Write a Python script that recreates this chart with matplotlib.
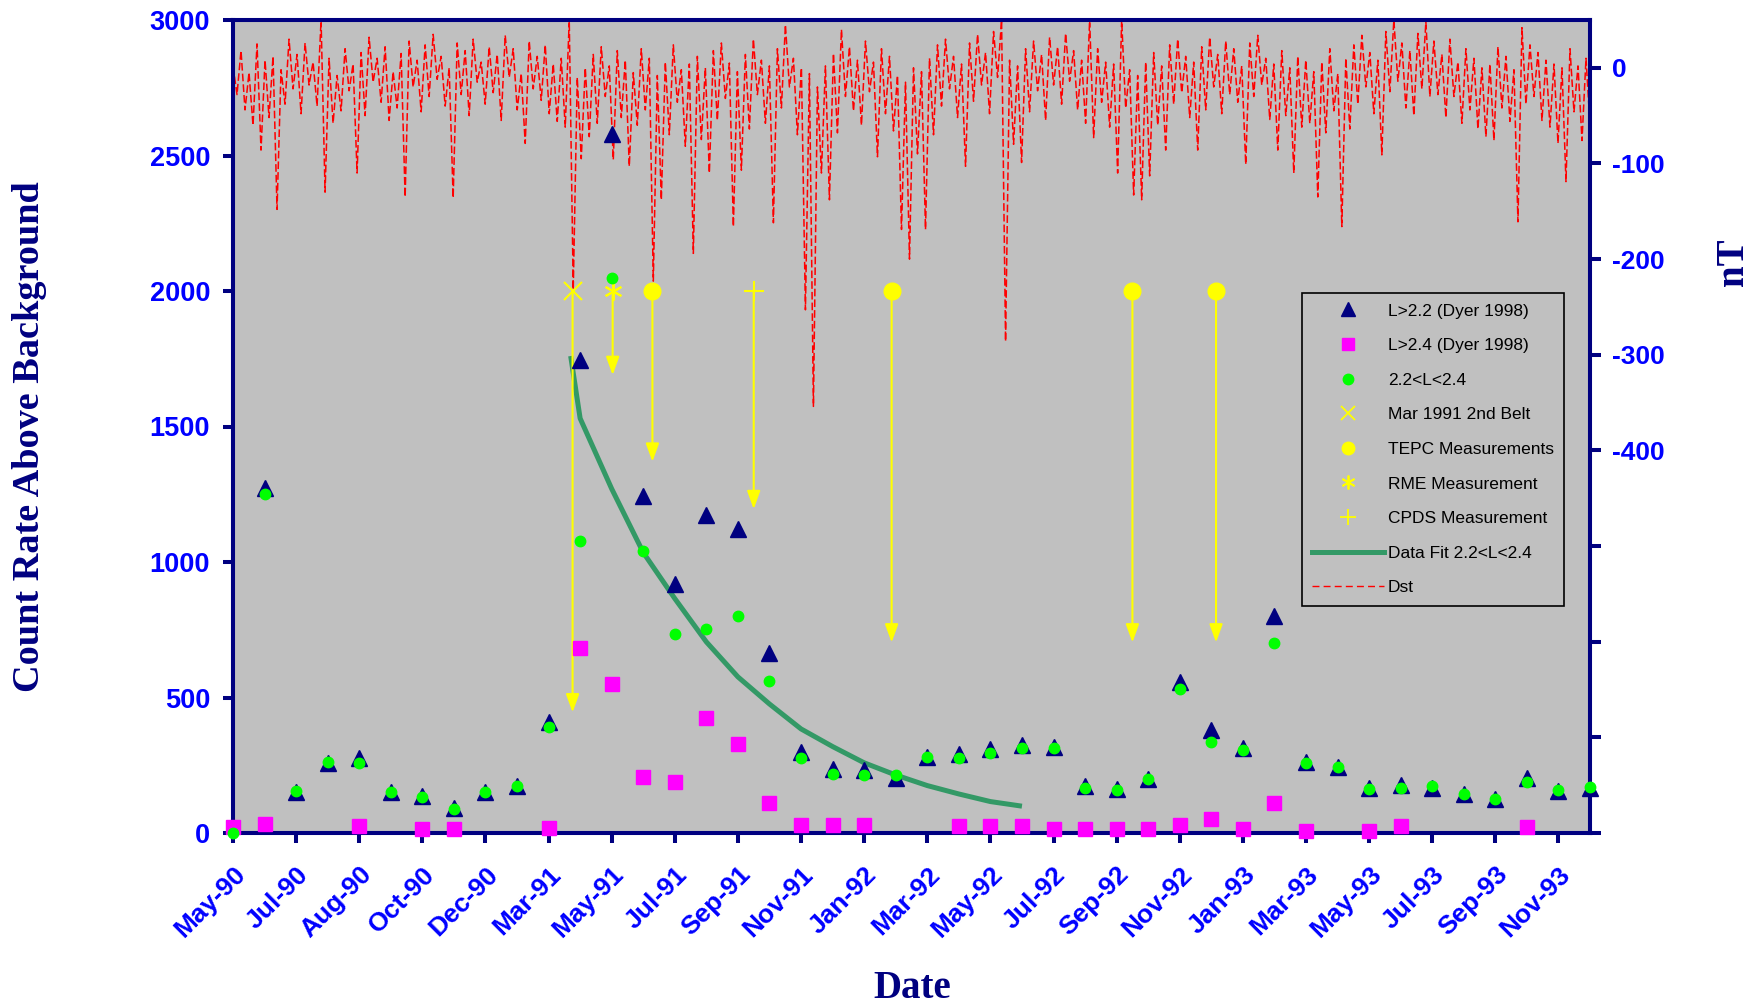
import numpy as np
import matplotlib
matplotlib.use('Agg')
import matplotlib.pyplot as plt
from matplotlib.lines import Line2D
from matplotlib.ticker import FixedLocator, FixedFormatter

nan = np.nan

# ---------------- data ----------------
tick_labels = ['May-90', 'Jul-90', 'Aug-90', 'Oct-90', 'Dec-90', 'Mar-91', 'May-91',
               'Jul-91', 'Sep-91', 'Nov-91', 'Jan-92', 'Mar-92', 'May-92', 'Jul-92',
               'Sep-92', 'Nov-92', 'Jan-93', 'Mar-93', 'May-93', 'Jul-93', 'Sep-93',
               'Nov-93']
n_cat = 44

l22_dyer = [nan, 1273, 151, 258, 277, 150, 137, 93, 150, 172, 408, 1745, 2580, 1242,
            920, 1175, 1120, 664, 299, 238, 233, 203, 280, 292, 310, 325, 318, 175,
            162, 200, 557, 380, 313, 801, 261, 245, 167, 177, 167, 145, 126, 202,
            155, 165]
l24_dyer = [22, 33, nan, nan, 26, nan, 15, 15, nan, nan, 20, 681, 550, 206, 190, 425,
            330, 110, 30, 30, 31, nan, nan, 25, 24, 24, 15, 15, 15, 15, 30, 50, 15,
            110, 7, nan, 7, 26, nan, nan, nan, 22, nan, nan]
l22_l24 = [0, 1251, 155, 262, 260, 151, 133, 90, 151, 173, 390, 1077, 2047, 1039, 733,
           751, 800, 562, 278, 219, 213, 213, 280, 278, 294, 312, 313, 167, 159, 198,
           533, 336, 306, 702, 258, 245, 162, 166, 172, 145, 127, 190, 158, 170]

fit_x = [10.7, 11, 12, 13, 14, 15, 16, 17, 18, 19, 20, 21, 22, 23, 24, 25]
fit_y = [1760, 1530, 1270, 1035, 865, 705, 576, 476, 384, 319, 259, 214, 175, 144,
         116, 99]

belt_x = [10.76]
belt_y = [2000]
belt_tip = [445]
rme_x = [12.03]
rme_y = [2000]
rme_tip = [1690]
tepc_x = [13.29, 20.87, 28.5, 31.15]
tepc_y = [2000, 2000, 2000, 2000]
tepc_tip = [1370, 703, 703, 703]
cpds_x = [16.5]
cpds_y = [2000]
cpds_tip = [1195]

# Dst (nT), read across the top band of the chart
dst = [2, -28, 18, -44, -5, -60, 25, -86, 8, -52, 12, -148, -2, -38, 30, -22, 14, -48, 26, -18,
       6, -40, 50, -130, 10, -58, -8, -45, 20, -24, 4, -110, 16, -50, 32, -15, 10, -36, 22, -55,
       -4, -42, 15, -135, 28, -20, 8, -46, 24, -30, 35, -12, 12, -40, 0, -136, 26, -28, 18, -50,
       30, -15, 6, -38, 22, -26, 14, -55, 34, -10, 20, -44, -6, -79, 28, -22, 12, -34, 24, -48,
       4, -56, 10, -62, 50, -232, -10, -95, 0, -72, 14, -58, 22, -30, 2, -96, 18, -52, 8, -103,
       -5, -60, 20, -44, 10, -223, -8, -138, 6, -70, 24, -36, -2, -82, 4, -194, 12, -75, 0, -110,
       18, -55, 26, -32, 5, -166, -4, -107, 14, -64, 30, -28, 8, -58, 2, -162, 20, -42, 45, -20,
       10, -70, 0, -253, -6, -354, -20, -110, 2, -138, 15, -68, 40, -30, 22, -45, 8, -60, 28, -25,
       6, -93, 20, -48, 12, -66, -8, -169, -15, -200, 0, -90, -4, -169, 10, -70, 24, -40, 30, -22,
       12, -52, 4, -103, 26, -35, 35, -18, 16, -48, 38, -10, 50, -286, 8, -80, 2, -99, 20, -46,
       28, -24, 14, -55, 32, -18, 22, -38, 36, -14, 18, -44, 8, -58, 50, -73, 20, -36, 6, -62,
       4, -110, 50, -42, -2, -133, -8, -138, 6, -113, 16, -60, 2, -86, 24, -38, 30, -26, 12, -52,
       6, -86, 22, -44, 32, -20, 14, -48, 28, -28, 20, -36, 2, -101, 26, -30, 34, -18, 10, -54,
       4, -86, 18, -50, 0, -110, 12, -62, 8, -58, -4, -135, 6, -68, 20, -45, -6, -166, 10, -64,
       24, -38, 34, -20, 16, -48, 8, -91, 38, -25, 50, -14, 26, -42, 18, -50, 36, -22, 48, -30,
       28, -28, 14, -52, 30, -30, 6, -58, 20, -44, 10, -64, 0, -72, 4, -76, 22, -42, 12, -56,
       -2, -161, 42, -38, 24, -30, 16, -55, 8, -62, 4, -79, 0, -119, 20, -46, 2, -76, 10, -60]

left_ticks = [0, 500, 1000, 1500, 2000, 2500, 3000]
dst_ticks = [0, -100, -200, -300, -400, -500, -600, -700, -800]
dst_tick_labels = ['0', '-100', '-200', '-300', '-400', '', '', '', '']

# ---------------- style ----------------
NAVY = '#000080'
BLUE = '#0000FF'
YEL = '#FFFF00'
GRAY = '#C0C0C0'
SANS = 'Liberation Sans'
SERIF = 'Liberation Serif'

W, H = 1752, 1007
fig = plt.figure(figsize=(W / 100, H / 100), dpi=100)
ax = fig.add_axes([233 / W, 1 - 833 / H, (1590 - 233) / W, (833 - 20) / H])
ax2 = ax.twinx()
ax2.set_zorder(1)
ax2.patch.set_visible(True)
ax2.patch.set_facecolor(GRAY)
ax.set_zorder(2)
ax.patch.set_visible(False)

x = np.arange(n_cat)

# Dst on the secondary axis
ax2.plot(np.linspace(0, n_cat - 1, len(dst)), dst, color='#FF0000', lw=1.1,
         ls=(0, (5, 2)))
ax2.set_ylim(-800, 50)

# fit line
ax.plot(fit_x, fit_y, color='#339966', lw=3.6, solid_capstyle='butt', zorder=2)

# measurement arrows
for xs, ys, tips in [(belt_x, belt_y, belt_tip), (rme_x, rme_y, rme_tip),
                     (tepc_x, tepc_y, tepc_tip), (cpds_x, cpds_y, cpds_tip)]:
    for xx, yy, tt in zip(xs, ys, tips):
        ax.annotate('', xy=(xx, tt), xytext=(xx, yy),
                    arrowprops=dict(arrowstyle='-|>,head_length=0.55,head_width=0.2',
                                    color=YEL, lw=1.5, shrinkA=0, shrinkB=0,
                                    mutation_scale=20), zorder=3)

ax.plot(belt_x, belt_y, ls='none', marker='x', ms=13, mew=1.5, color=YEL, zorder=4)
ax.plot(rme_x, rme_y, ls='none', marker=(6, 2, 0), ms=13, mew=1.5, color=YEL, zorder=4)
ax.plot(tepc_x, tepc_y, ls='none', marker='o', ms=12, color=YEL, zorder=4)
ax.plot(cpds_x, cpds_y, ls='none', marker='+', ms=14, mew=1.5, color=YEL, zorder=4)

# data series
ax.plot(x, l22_dyer, ls='none', marker='^', ms=11, color=NAVY, clip_on=False, zorder=5)
ax.plot(x, l24_dyer, ls='none', marker='s', ms=10, color='#FF00FF', mec='#FF00FF',
        clip_on=False, zorder=5)
ax.plot(x, l22_l24, ls='none', marker='o', ms=7.5, color='#00FF00', mec='#00FF00',
        clip_on=False, zorder=6)

ax.set_xlim(0, n_cat - 1)
ax.set_ylim(0, 3000)

# spines
for a in (ax, ax2):
    for s in a.spines.values():
        s.set_color(NAVY)
        s.set_linewidth(2.9)

# ticks
ax.set_yticks(left_ticks)
ax.set_xticks(np.arange(0, n_cat - 1, 2))
ax.set_xticklabels(tick_labels)
ax.tick_params(axis='y', direction='out', length=7.5, width=2.9, color=NAVY,
               labelcolor=BLUE, labelsize=19.5, pad=9)
ax.tick_params(axis='x', direction='out', length=7, width=2.9, color=NAVY,
               labelcolor=BLUE, labelsize=19, pad=14)
for lbl in ax.get_xticklabels():
    lbl.set_rotation(45)
    lbl.set_ha('right')
    lbl.set_va('top')
    lbl.set_rotation_mode('anchor')
for lbl in ax.get_xticklabels() + ax.get_yticklabels():
    lbl.set_fontweight('bold')
    lbl.set_fontfamily(SANS)

ax2.yaxis.set_major_locator(FixedLocator(dst_ticks))
ax2.yaxis.set_major_formatter(FixedFormatter(dst_tick_labels))
ax2.tick_params(axis='y', direction='out', length=8, width=2.9, color=NAVY,
                labelcolor=BLUE, labelsize=19, pad=8)
for lbl in ax2.get_yticklabels():
    lbl.set_fontweight('bold')
    lbl.set_fontfamily(SANS)

# axis titles
fig.text(30 / W, 1 - 437 / H, 'Count Rate Above Background', rotation=90,
         ha='center', va='center', fontsize=27.5, fontweight='bold', family=SERIF,
         color=NAVY)
fig.text(912 / W, 1 - 998 / H, 'Date', ha='center', va='baseline', fontsize=28,
         fontweight='bold', family=SERIF, color=NAVY)
fig.text(1733 / W, 1 - 262 / H, 'nT', rotation=90, ha='center', va='center',
         fontsize=28, fontweight='bold', family=SERIF, color=NAVY)

# legend
handles = [
    Line2D([], [], ls='none', marker='^', ms=10, color=NAVY),
    Line2D([], [], ls='none', marker='s', ms=9, color='#FF00FF'),
    Line2D([], [], ls='none', marker='o', ms=7.5, color='#00FF00'),
    Line2D([], [], ls='none', marker='x', ms=10, mew=1.3, color=YEL),
    Line2D([], [], ls='none', marker='o', ms=9, color=YEL),
    Line2D([], [], ls='none', marker=(6, 2, 0), ms=10, mew=1.3, color=YEL),
    Line2D([], [], ls='none', marker='+', ms=11, mew=1.3, color=YEL),
    Line2D([], [], color='#339966', lw=3.6),
    Line2D([], [], color='#FF0000', lw=1.0, ls=(0, (5, 3))),
]
labels = ['L>2.2 (Dyer 1998)', 'L>2.4 (Dyer 1998)', '2.2<L<2.4', 'Mar 1991 2nd Belt',
          'TEPC Measurements', 'RME Measurement', 'CPDS Measurement',
          'Data Fit 2.2<L<2.4', 'Dst']
leg = ax.legend(handles, labels, loc='upper left',
                bbox_to_anchor=(1302 / W, 1 - 293 / H), bbox_transform=fig.transFigure,
                frameon=True, fancybox=False, edgecolor='black', facecolor=GRAY,
                framealpha=1, prop={'family': SANS, 'size': 12.5},
                handlelength=4.1, handletextpad=0.25, labelspacing=1.12,
                borderpad=0.6, borderaxespad=0)
leg.get_frame().set_linewidth(1.2)
leg.set_zorder(10)

fig.savefig('out.png', dpi=100)
